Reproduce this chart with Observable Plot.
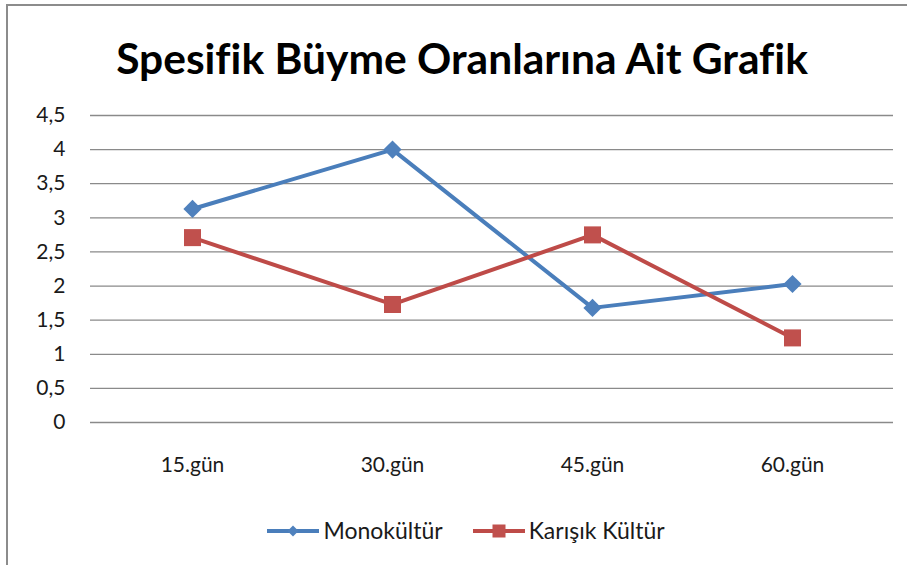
<!DOCTYPE html>
<html>
<head>
<meta charset="utf-8">
<script src="https://cdn.jsdelivr.net/npm/d3@7"></script>
<script src="https://cdn.jsdelivr.net/npm/@observablehq/plot@0.6"></script>
<style>
  html, body { margin: 0; padding: 0; background: #fff; overflow: hidden; }
  #page { position: relative; width: 907px; height: 565px; overflow: hidden; font-family: Lato, "Open Sans", sans-serif; font-variant-ligatures: none; }
  #frame { position: absolute; left: 6px; top: 4px; width: 930px; height: 600px; border-top: 2px solid #8c8c8c; border-left: 2px solid #8c8c8c; box-sizing: border-box; }
  #title { position: absolute; left: 0; top: 32px; width: 924px; text-align: center; font-weight: 700; font-size: 42.5px; line-height: 1.2; color: #000; white-space: nowrap; }
  #chart { position: absolute; left: 0; top: 100px; }
  #legend { position: absolute; left: 0; top: 517px; width: 932px; display: flex; justify-content: center; align-items: center; gap: 0; font-size: 23px; color: #1a1a1a; line-height: 1.2; }
  .item { display: flex; align-items: center; margin: 0 15px; }
  .item svg { margin-right: 4px; }
</style>
</head>
<body>
<div id="page">
  <div id="frame"></div>
  <div id="title"></div>
  <div id="chart"></div>
  <div id="legend"></div>
</div>
<script>
// ---- data ----
const titleText = "Spesifik Büyme Oranlarına Ait Grafik";
const categories = ["15.gün", "30.gün", "45.gün", "60.gün"];
const seriesNames = ["Monokültür", "Karışık Kültür"];
const monokultur = [3.13, 4.0, 1.68, 2.03];
const karisikKultur = [2.71, 1.73, 2.75, 1.24];
const yTicks = [0, 0.5, 1, 1.5, 2, 2.5, 3, 3.5, 4, 4.5];

// ---- styles ----
const lineColors = ["#4A7EBB", "#BE4B48"];
const markColors = ["#4F81BD", "#C0504D"];

const monoData = categories.map((d, i) => ({day: d, value: monokultur[i], series: seriesNames[0]}));
const karData = categories.map((d, i) => ({day: d, value: karisikKultur[i], series: seriesNames[1]}));

document.getElementById("title").textContent = titleText;

const chart = Plot.plot({
  width: 907,
  height: 400,
  marginTop: 15,
  marginLeft: 90,
  marginRight: 14,
  marginBottom: 78,
  style: {fontFamily: "Lato, 'Open Sans', sans-serif", fontSize: "21px", color: "#1a1a1a", background: "transparent", overflow: "visible"},
  x: {type: "point", domain: categories, padding: 0.5, label: null, tickSize: 0, tickPadding: 35},
  y: {domain: [0, 4.5], ticks: yTicks, label: null, tickSize: 0, tickPadding: 25, tickFormat: d => String(d).replace(".", ",")},
  color: {domain: seriesNames, range: lineColors},
  marks: [
    Plot.ruleY(yTicks, {stroke: "#8a8a8a", strokeWidth: 1.3}),
    Plot.line(monoData, {x: "day", y: "value", stroke: lineColors[0], strokeWidth: 4, strokeLinejoin: "round"}),
    Plot.dot(monoData, {x: "day", y: "value", symbol: "diamond2", r: 8.2, fill: markColors[0], stroke: "none"}),
    Plot.line(karData, {x: "day", y: "value", stroke: lineColors[1], strokeWidth: 4, strokeLinejoin: "round"}),
    Plot.dot(karData, {x: "day", y: "value", symbol: "square", r: 9.6, fill: markColors[1], stroke: "none"})
  ]
});
document.getElementById("chart").appendChild(chart);

// ---- legend ----
const legend = d3.select("#legend");
seriesNames.forEach((name, i) => {
  const item = legend.append("div").attr("class", "item");
  const svg = item.append("svg").attr("width", 52).attr("height", 20);
  svg.append("line").attr("x1", 0).attr("x2", 52).attr("y1", 10).attr("y2", 10)
    .attr("stroke", lineColors[i]).attr("stroke-width", 4);
  if (i === 0) {
    svg.append("path").attr("d", "M26,4.5 L31.5,10 L26,15.5 L20.5,10 Z").attr("fill", markColors[i]);
  } else {
    svg.append("rect").attr("x", 19.5).attr("y", 3.5).attr("width", 13).attr("height", 13).attr("fill", markColors[i]);
  }
  item.append("span").text(name);
});
</script>
</body>
</html>
